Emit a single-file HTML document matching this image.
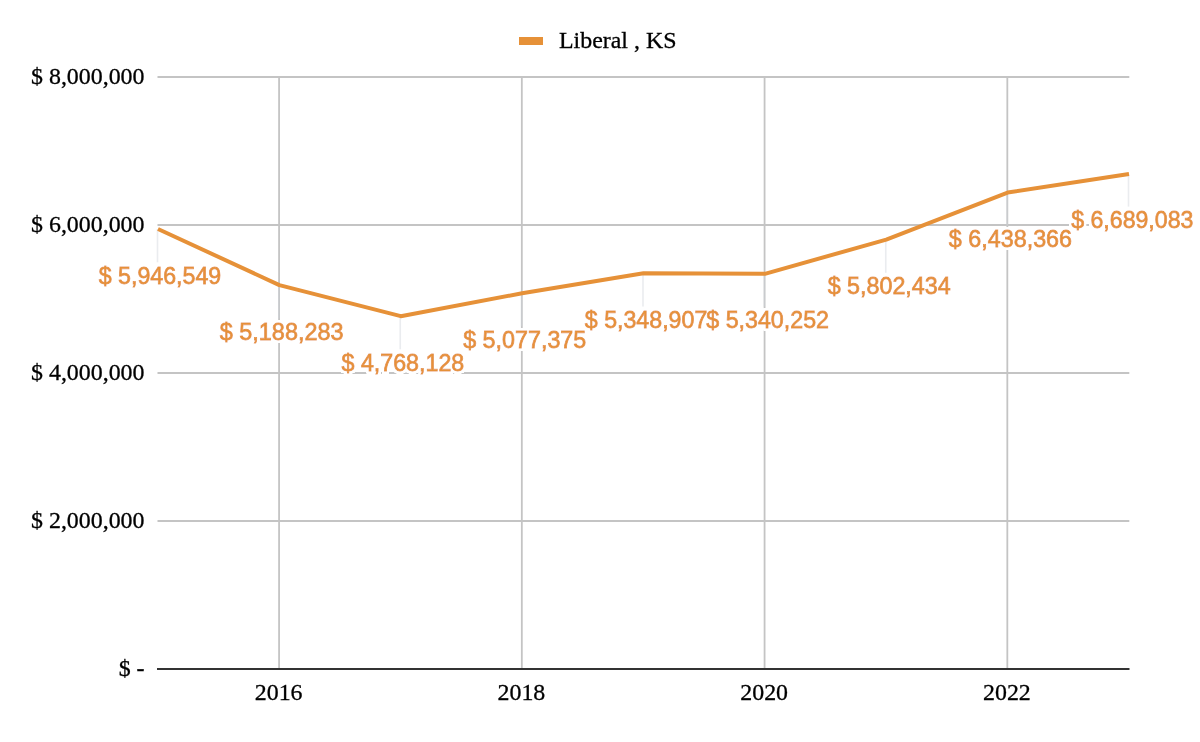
<!DOCTYPE html>
<html lang="en">
<head>
<meta charset="utf-8">
<title>Liberal , KS</title>
<style>
html,body{margin:0;padding:0;background:#fff;}
body{width:1200px;height:742px;overflow:hidden;}
svg{display:block;}
.ax{font-family:"Liberation Serif","Times New Roman",serif;font-size:23.9px;fill:#000;stroke:#000;stroke-width:0.3px;}
.dl{font-family:"Liberation Sans",Arial,sans-serif;font-size:23px;}
.fg{fill:#e69138;stroke:#e69138;stroke-width:0.8px;}
</style>
</head>
<body>
<svg width="1200" height="742" viewBox="0 0 1200 742">
<rect x="0" y="0" width="1200" height="742" fill="#ffffff"/>

<g stroke="#c4c4c4" stroke-width="1.8" fill="none">
<line x1="157.5" y1="77.00" x2="1129.3" y2="77.00"/>
<line x1="157.5" y1="225.00" x2="1129.3" y2="225.00"/>
<line x1="157.5" y1="373.00" x2="1129.3" y2="373.00"/>
<line x1="157.5" y1="521.00" x2="1129.3" y2="521.00"/>
<line x1="279.07" y1="77.0" x2="279.07" y2="669.0"/>
<line x1="521.83" y1="77.0" x2="521.83" y2="669.0"/>
<line x1="764.58" y1="77.0" x2="764.58" y2="669.0"/>
<line x1="1007.33" y1="77.0" x2="1007.33" y2="669.0"/>
</g>
<line x1="157.0" y1="669.0" x2="1129.5" y2="669.0" stroke="#333333" stroke-width="2"/>
<g stroke="#d0d4dc" stroke-opacity="0.45" stroke-width="1.6" fill="none">
<line x1="157.50" y1="228.96" x2="157.50" y2="262.30"/>
<line x1="278.88" y1="285.07" x2="278.88" y2="318.20"/>
<line x1="400.25" y1="316.16" x2="400.25" y2="349.30"/>
<line x1="521.62" y1="293.27" x2="521.62" y2="326.30"/>
<line x1="643.00" y1="273.18" x2="643.00" y2="306.50"/>
<line x1="764.38" y1="273.82" x2="764.38" y2="306.50"/>
<line x1="885.75" y1="239.62" x2="885.75" y2="272.80"/>
<line x1="1007.12" y1="192.56" x2="1007.12" y2="225.50"/>
<line x1="1128.50" y1="174.01" x2="1128.50" y2="206.60"/>
</g>
<path d="M158.00,228.96 L279.38,285.07 L400.75,316.16 L522.12,293.27 L643.50,273.18 L764.88,273.82 L886.25,239.62 L1007.62,192.56 L1129.00,174.01" fill="none" stroke="#e69138" stroke-width="4" stroke-linejoin="round" stroke-linecap="butt"/>
<defs><filter id="halo" filterUnits="userSpaceOnUse" x="80" y="190" width="1120" height="200"><feMorphology in="SourceAlpha" operator="dilate" radius="2" result="d"/><feGaussianBlur in="d" stdDeviation="0.5" result="b"/><feComponentTransfer in="b" result="t"><feFuncA type="linear" slope="3" intercept="0"/></feComponentTransfer><feFlood flood-color="#ffffff" result="w"/><feComposite in="w" in2="t" operator="in" result="h"/><feMerge><feMergeNode in="h"/><feMergeNode in="SourceGraphic"/></feMerge></filter></defs>
<g class="dl fg" text-anchor="middle" filter="url(#halo)">
<text x="160.00" y="283.90" textLength="122.6" lengthAdjust="spacingAndGlyphs">$ 5,946,549</text>
<text x="281.65" y="339.80" textLength="123.7" lengthAdjust="spacingAndGlyphs">$ 5,188,283</text>
<text x="402.90" y="370.90" textLength="122.8" lengthAdjust="spacingAndGlyphs">$ 4,768,128</text>
<text x="524.75" y="347.90" textLength="123.1" lengthAdjust="spacingAndGlyphs">$ 5,077,375</text>
<text x="646.05" y="328.10" textLength="122.5" lengthAdjust="spacingAndGlyphs">$ 5,348,907</text>
<text x="767.65" y="328.10" textLength="122.7" lengthAdjust="spacingAndGlyphs">$ 5,340,252</text>
<text x="889.20" y="294.40" textLength="123.0" lengthAdjust="spacingAndGlyphs">$ 5,802,434</text>
<text x="1010.45" y="247.10" textLength="123.3" lengthAdjust="spacingAndGlyphs">$ 6,438,366</text>
<text x="1132.30" y="228.20" textLength="122.2" lengthAdjust="spacingAndGlyphs">$ 6,689,083</text>
</g>
<g class="ax" text-anchor="end">
<text x="144.5" y="83.50">$ 8,000,000</text>
<text x="144.5" y="231.50">$ 6,000,000</text>
<text x="144.5" y="379.50">$ 4,000,000</text>
<text x="144.5" y="527.50">$ 2,000,000</text>
<text x="144.5" y="675.50">$ -</text>
</g>
<g class="ax" text-anchor="middle">
<text x="278.68" y="699.8">2016</text>
<text x="521.42" y="699.8">2018</text>
<text x="764.17" y="699.8">2020</text>
<text x="1006.92" y="699.8">2022</text>
</g>
<rect x="519" y="37" width="24" height="8" fill="#e69138"/>
<text class="ax" x="559" y="47.5">Liberal , KS</text>
</svg>
</body>
</html>
